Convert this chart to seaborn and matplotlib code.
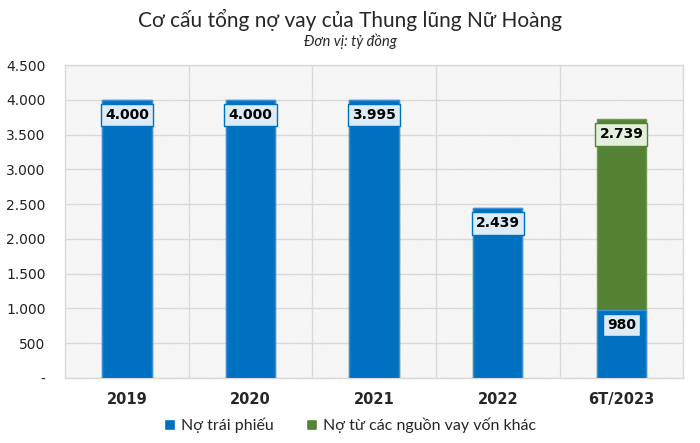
import matplotlib
matplotlib.use("Agg")
import matplotlib.pyplot as plt
import seaborn as sns
import pandas as pd
from matplotlib.ticker import FuncFormatter, MultipleLocator
from matplotlib.patches import Rectangle, Patch

years = ["2019", "2020", "2021", "2022", "6T/2023"]
bond_debt = [4000, 4000, 3995, 2439, 980]
other_debt = [0, 0, 0, 0, 2739]
series_names = ["Nợ trái phiếu", "Nợ từ các nguồn vay vốn khác"]

BLUE = "#0070C0"
GREEN = "#548235"

sns.set_theme(style="white")
plt.rcParams["font.family"] = ["DejaVu Sans"]
plt.rcParams["hatch.color"] = "#e9e9e9"
plt.rcParams["hatch.linewidth"] = 0.5

df = pd.DataFrame({"year": years, "bond": bond_debt, "other": other_debt})
df["total"] = df["bond"] + df["other"]

fig = plt.figure(figsize=(7, 4.43), dpi=100)
ax = fig.add_axes([0.093, 0.147, 0.883, 0.706])

# hatched background
bg = Rectangle((0, 0), 1, 1, transform=ax.transAxes, facecolor="white",
               edgecolor="#e9e9e9", hatch="\\" * 14, linewidth=0, zorder=0)
ax.add_patch(bg)

sns.barplot(data=df, x="year", y="total", color=GREEN, saturation=1,
            width=0.4, ax=ax, zorder=3, edgecolor="#6f9a4c", linewidth=1)
sns.barplot(data=df, x="year", y="bond", color=BLUE, saturation=1,
            width=0.4, ax=ax, zorder=4, edgecolor="#3d8fd6", linewidth=1)

ax.set_ylim(0, 4500)
ax.set_xlim(-0.5, len(years) - 0.5)
ax.yaxis.set_major_locator(MultipleLocator(500))
ax.yaxis.set_major_formatter(FuncFormatter(
    lambda v, p: "-" if v == 0 else f"{int(v):,}".replace(",", ".")))
ax.set_xlabel("")
ax.set_ylabel("")
ax.grid(axis="y", color="#d9d9d9", linewidth=1, zorder=1)
ax.set_axisbelow(True)
for b in range(1, len(years)):
    ax.axvline(b - 0.5, color="#d9d9d9", linewidth=1, zorder=1)
for s in ax.spines.values():
    s.set_color("#d9d9d9")
    s.set_linewidth(1)
ax.tick_params(axis="y", labelsize=10, length=0, pad=14, colors="#222222")
ax.tick_params(axis="x", labelsize=10.5, length=0, pad=10)
for t in ax.get_xticklabels():
    t.set_fontweight("bold")

def fmt(v):
    return f"{int(v):,}".replace(",", ".")

for i, (b, o) in enumerate(zip(bond_debt, other_debt)):
    ax.annotate(fmt(b), (i, b), xytext=(0, -15), textcoords="offset pixels",
                ha="center", va="center", fontsize=10, fontweight="bold",
                zorder=6, color="black",
                bbox=dict(boxstyle="square,pad=0.3", facecolor="#DDEBF7",
                          edgecolor=BLUE, linewidth=1))
    if o > 0:
        ax.annotate(fmt(o), (i, b + o), xytext=(0, -15), textcoords="offset pixels",
                    ha="center", va="center", fontsize=10, fontweight="bold",
                    zorder=6, color="black",
                    bbox=dict(boxstyle="square,pad=0.3", facecolor="#E2EFDA",
                              edgecolor=GREEN, linewidth=1))

fig.text(0.5, 0.955, "Cơ cấu tổng nợ vay của Thung lũng Nữ Hoàng",
         ha="center", va="center", fontsize=15, family=["Lato", "DejaVu Sans"])
fig.text(0.5, 0.908, "Đơn vị: tỷ đồng", ha="center", va="center",
         fontsize=10.5, style="italic", family=["Lato", "DejaVu Sans"])

handles = [Patch(facecolor=BLUE), Patch(facecolor=GREEN)]
fig.legend(handles, series_names, loc="center", bbox_to_anchor=(0.5, 0.04),
           ncol=2, frameon=False, handlelength=0.7,
           handleheight=0.7, columnspacing=2.0, handletextpad=0.4,
           prop={"family": ["Lato", "DejaVu Sans"], "size": 11.5})

fig.savefig("out.png", dpi=100)
